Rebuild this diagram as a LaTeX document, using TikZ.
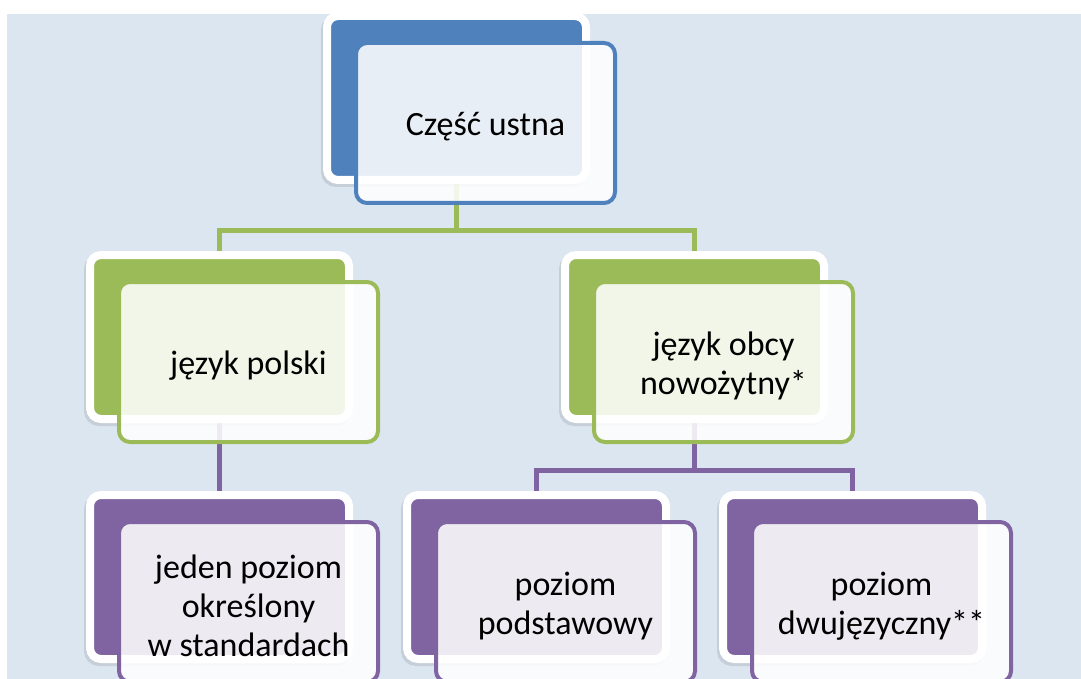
\documentclass[tikz,border=0pt]{standalone}
\usepackage{fontspec}
\setmainfont{Carlito}
\usetikzlibrary{shadows}
\definecolor{bgc}{HTML}{DCE6F1}
\definecolor{cblue}{HTML}{4F81BD}
\definecolor{cgreen}{HTML}{9BBB59}
\definecolor{cpurple}{HTML}{8064A2}
\pgfdeclarelayer{bglayer}
\pgfdeclarelayer{linelayer}
\pgfsetlayers{bglayer,linelayer,main}
\tikzset{
  backbox/.style={rectangle, rounded corners=11pt, minimum width=259pt, minimum height=164pt,
    inner sep=0pt, outer sep=0pt, draw=white, line width=8pt, fill=#1,
    drop shadow={shadow xshift=-2pt, shadow yshift=-3pt, opacity=0.18, fill=black!60, draw=black!60, line width=8pt}},
  frontbox/.style={rectangle, rounded corners=11pt, minimum width=259pt, minimum height=160pt,
    inner sep=0pt, outer sep=0pt, draw=#1, line width=4pt, fill=white, fill opacity=0.87},
  txt/.style={inner sep=0pt, align=center, font=\fontsize{34}{39}\selectfont},
  conn/.style={draw=#1, line width=5pt},
}
\newcommand\orgbox[5]{%
  \node[backbox=#4] (b#1) at (#2+133.5,#3+86) {};
  \node[frontbox=#4] (f#1) at (#2+162.5,#3+111) {};
  \node[txt] (t#1) at ([yshift=-4pt]f#1.center) {#5};
}
\begin{document}
\begin{tikzpicture}[x=1pt,y=-1pt]
\useasboundingbox (0,0) rectangle (1081,679);
\begin{pgfonlayer}{bglayer}
  \fill[white] (0,0) rectangle (1081,679);
  \fill[bgc] (7,14) rectangle (1081,679);
\end{pgfonlayer}

\orgbox{top}{323}{12}{cblue}{Część ustna}
\orgbox{gl}{86}{251}{cgreen}{język polski}
\orgbox{gr}{561}{251}{cgreen}{język obcy\\nowożytny*}
\orgbox{pl}{86}{491}{cpurple}{jeden poziom\\określony\\w standardach}
\orgbox{pm}{403}{491}{cpurple}{poziom\\podstawowy}
\orgbox{pr}{719}{491}{cpurple}{poziom\\dwujęzyczny**}

\begin{pgfonlayer}{linelayer}
  \coordinate (j1) at (457,230.5);
  \coordinate (j2) at (694,470.5);
  \draw[conn=cgreen] (btop.south) -- (btop.south |- j1) -| (bgl.north);
  \draw[conn=cgreen] (btop.south |- j1) -| (bgr.north);
  \draw[conn=cpurple] (bgl.south) -- (bpl.north);
  \draw[conn=cpurple] (bgr.south) -- (bgr.south |- j2) -| (bpm.north);
  \draw[conn=cpurple] (bgr.south |- j2) -| (bpr.north);
\end{pgfonlayer}
\end{tikzpicture}
\end{document}
